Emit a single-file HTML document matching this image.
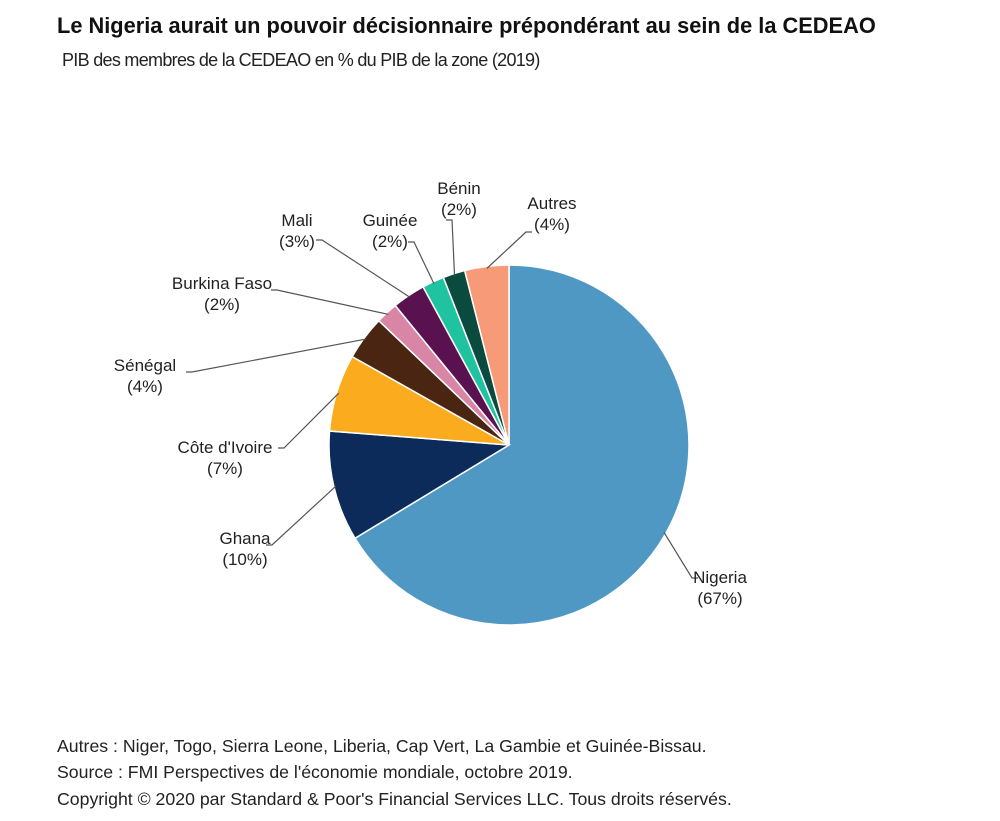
<!DOCTYPE html>
<html><head><meta charset="utf-8"><style>
body{margin:0;background:#fff;width:1000px;height:821px;overflow:hidden;font-family:"Liberation Sans",sans-serif;}
.t{position:absolute;color:#222;white-space:nowrap}
</style></head><body>
<div class="t" style="left:57px;top:13px;font-size:21.8px;font-weight:bold;color:#111">Le Nigeria aurait un pouvoir décisionnaire prépondérant au sein de la CEDEAO</div>
<div class="t" style="left:62px;top:50px;font-size:18px;letter-spacing:-0.7px">PIB des membres de la CEDEAO en % du PIB de la zone (2019)</div>
<svg id="chart" width="1000" height="821" style="position:absolute;left:0;top:0"></svg>
<div class="t" style="left:57px;top:736px;font-size:17.7px">Autres : Niger, Togo, Sierra Leone, Liberia, Cap Vert, La Gambie et Guinée-Bissau.</div>
<div class="t" style="left:57px;top:762px;font-size:17.7px">Source : FMI Perspectives de l'économie mondiale, octobre 2019.</div>
<div class="t" style="left:57px;top:789px;font-size:17.7px">Copyright © 2020 par Standard &amp; Poor's Financial Services LLC. Tous droits réservés.</div>
<script>
const categories=["Nigeria","Ghana","Côte d'Ivoire","Sénégal","Burkina Faso","Mali","Guinée","Bénin","Autres"];
const values=[67,10,7,4,2,3,2,2,4];
const labels=["(67%)","(10%)","(7%)","(4%)","(2%)","(3%)","(2%)","(2%)","(4%)"];
const colors=["#4f98c3","#0c2a5a","#fbab1e","#4a2512","#d986a6","#5a1150","#1fc3a0","#0b4a3e","#f79a78"];
const labelPos=[[720,577],[245,538],[225,447],[145,365],[222,283],[297,220],[390,220],[459,188],[552,203]];
const elbow=[[692,578],[272,545],[284,448],[192,372],[277,290],[322,240],[414,242],[452,220],[526,232]];
const svg=document.getElementById('chart');
const NS="http://www.w3.org/2000/svg";
const cx=509,cy=445,R=180;
const total=values.reduce((a,b)=>a+b,0);
function pt(a,r){return [cx+r*Math.sin(a),cy-r*Math.cos(a)];}
let a0=0;
values.forEach((v,i)=>{
  const a1=a0+v/total*2*Math.PI;
  const p0=pt(a0,R),p1=pt(a1,R);
  const large=(a1-a0)>Math.PI?1:0;
  const p=document.createElementNS(NS,'path');
  p.setAttribute('d',`M${cx},${cy}L${p0[0]},${p0[1]}A${R},${R} 0 ${large} 1 ${p1[0]},${p1[1]}Z`);
  p.setAttribute('fill',colors[i]);p.setAttribute('stroke','#fff');p.setAttribute('stroke-width','1.5');
  
  
  svg.appendChild(p);
  const mid=(a0+a1)/2, e=pt(mid,R-2);
  const l=document.createElementNS(NS,'polyline');
  const lp=labelPos[i], el=elbow[i];
  const sx=el[0]<cx?el[0]-6:el[0]+6;
  l.setAttribute('points',`${sx},${el[1]} ${el[0]},${el[1]} ${e[0]},${e[1]}`);
  l.setAttribute('fill','none');l.setAttribute('stroke','#555');l.setAttribute('stroke-width','1.2');
  
  
  svg.appendChild(l);
  [categories[i],labels[i]].forEach((s,k)=>{
    const t=document.createElementNS(NS,'text');
    t.setAttribute('x',lp[0]);t.setAttribute('y',lp[1]+6+k*21);
    t.setAttribute('text-anchor','middle');t.setAttribute('font-size','17');t.setAttribute('fill','#222');
    t.setAttribute('font-family','Liberation Sans, sans-serif');
    t.textContent=s;
    
    
    svg.appendChild(t);
  });
  a0=a1;
});
</script>
</body></html>
